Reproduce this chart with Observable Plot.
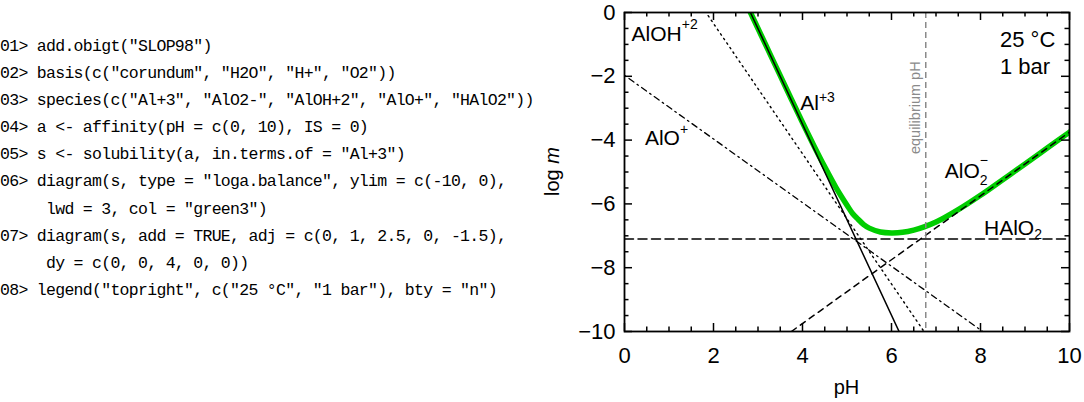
<!DOCTYPE html>
<html><head><meta charset="utf-8">
<script src="https://cdn.jsdelivr.net/npm/d3@7"></script>
<script src="https://cdn.jsdelivr.net/npm/@observablehq/plot@0.6"></script>
<style>
body{margin:0;background:#fff;}
#wrap{position:relative;width:1084px;height:402px;overflow:hidden;}
#chart{position:absolute;left:0;top:0;}
#code{position:absolute;left:0;top:33px;font-family:"Liberation Mono","Courier New",monospace;font-size:16.5px;letter-spacing:-0.7px;line-height:27.1px;white-space:pre;color:#000;}
</style></head><body>
<div id="wrap"><div id="chart"></div><div id="code"></div></div>
<script>
// ---- data ----
const codeLines = [
  '01> add.obigt("SLOP98")',
  '02> basis(c("corundum", "H2O", "H+", "O2"))',
  '03> species(c("Al+3", "AlO2-", "AlOH+2", "AlO+", "HAlO2"))',
  '04> a <- affinity(pH = c(0, 10), IS = 0)',
  '05> s <- solubility(a, in.terms.of = "Al+3")',
  '06> diagram(s, type = "loga.balance", ylim = c(-10, 0),',
  '     lwd = 3, col = "green3")',
  '07> diagram(s, add = TRUE, adj = c(0, 1, 2.5, 0, -1.5),',
  '     dy = c(0, 0, 4, 0, 0))',
  '08> legend("topright", c("25 °C", "1 bar"), bty = "n")'
];
const xTickLabels = [0, 2, 4, 6, 8, 10];
const yTickLabels = [0, -2, -4, -6, -8, -10];
const xMinor = [0.5, 1, 1.5, 2.5, 3, 3.5, 4.5, 5, 5.5, 6.5, 7, 7.5, 8.5, 9, 9.5];
const yMinor = [-0.5, -1, -1.5, -2.5, -3, -3.5, -4.5, -5, -5.5, -6.5, -7, -7.5, -8.5, -9, -9.5];

// species lines (pH, log m) end points
const lineAl3   = [[2.83, 0], [6.17, -10]];
const lineAlO2  = [[3.75, -10], [10, -3.75]];
const lineAlOH2 = [[1.88, -0.1], [6.73, -10]];
const lineAlO   = [[0, -1.97], [8.05, -10]];
const lineHAlO2 = [[0, -7.1], [10, -7.1]];
// total solubility (green)
const totalPH   = [2.83, 3.0, 3.25, 3.5, 3.75, 4.0, 4.25, 4.5, 4.75, 5.0, 5.125, 5.25, 5.375, 5.5, 5.75, 6.0, 6.25, 6.5, 6.75, 7.0, 7.5, 8.0, 8.5, 9.0, 9.5, 10];
const totalLogm = [0, -0.50, -1.24, -1.98, -2.72, -3.45, -4.16, -4.84, -5.48, -6.04, -6.30, -6.48, -6.65, -6.76, -6.88, -6.91, -6.89, -6.82, -6.71, -6.57, -6.18, -5.73, -5.24, -4.75, -4.25, -3.75];
const eqPH = 6.77;

const labels = [
  {pH: 0.17, logm: -0.90, main: "AlOH", sup: "+2", supDy: -11.4},
  {pH: 0.47, logm: -4.17, main: "AlO", sup: "+", supDy: -11.3},
  {pH: 3.96, logm: -3.07, main: "Al", sup: "+3", supDy: -8.3},
  {pH: 7.21, logm: -5.20, main: "AlO", sub: "2", subDy: 7.5, sup: "\u2212", supDy: -20},
  {pH: 8.09, logm: -6.98, main: "HAlO", sub: "2", subDy: 4.5}
];
const legendLines = ["25 \u00b0C", "1 bar"];

// ---- chart ----
const W = 1084, H = 402, mL = 624, mR = 15, mT = 12, mB = 71;
const iW = W - mL - mR, iH = H - mT - mB;
const major = 8, minor = 4.5;
const font = '"Liberation Sans", Arial, Helvetica, sans-serif';
const xy = {x: d => d[0], y: d => d[1], clip: true};

const chart = Plot.plot({
  width: W, height: H,
  marginLeft: mL, marginRight: mR, marginTop: mT, marginBottom: mB,
  x: {domain: [0, 10]},
  y: {domain: [-10, 0]},
  style: {fontFamily: font, background: "transparent", overflow: "visible", color: "black"},
  marks: [
    Plot.line(totalPH.map((p, i) => [p, totalLogm[i]]), {...xy, stroke: "#00cd00", strokeWidth: 5.5, curve: "catmull-rom"}),
    Plot.line(lineHAlO2, {...xy, stroke: "black", strokeWidth: 1.5, strokeDasharray: "9,4.5"}),
    Plot.line(lineAlO, {...xy, stroke: "black", strokeWidth: 1.3, strokeDasharray: "1.5,4,6,4"}),
    Plot.line(lineAlOH2, {...xy, stroke: "black", strokeWidth: 1.4, strokeDasharray: "1.5,4"}),
    Plot.line(lineAlO2, {...xy, stroke: "black", strokeWidth: 1.5, strokeDasharray: "6,5"}),
    Plot.line(lineAl3, {...xy, stroke: "black", strokeWidth: 1.5}),
    Plot.ruleX([eqPH], {stroke: "#8a8a8a", strokeWidth: 1.5, strokeDasharray: "6,4"}),
    Plot.frame({stroke: "black", strokeWidth: 1.8}),
    // bottom & top ticks
    Plot.tickX(xTickLabels, {x: d => d, insetTop: iH - major, stroke: "black", strokeWidth: 1.5}),
    Plot.tickX(xMinor, {x: d => d, insetTop: iH - minor, stroke: "black", strokeWidth: 1.5}),
    Plot.tickX(xTickLabels, {x: d => d, insetBottom: iH - major, stroke: "black", strokeWidth: 1.5}),
    Plot.tickX(xMinor, {x: d => d, insetBottom: iH - minor, stroke: "black", strokeWidth: 1.5}),
    // left & right ticks
    Plot.tickY(yTickLabels, {y: d => d, insetRight: iW - major, stroke: "black", strokeWidth: 1.5}),
    Plot.tickY(yMinor, {y: d => d, insetRight: iW - minor, stroke: "black", strokeWidth: 1.5}),
    Plot.tickY(yTickLabels, {y: d => d, insetLeft: iW - major, stroke: "black", strokeWidth: 1.5}),
    Plot.tickY(yMinor, {y: d => d, insetLeft: iW - minor, stroke: "black", strokeWidth: 1.5}),
    Plot.axisX(xTickLabels, {tickSize: 0, tickPadding: 16, fontSize: 22, label: null, fill: "black"}),
    Plot.axisY(yTickLabels, {tickSize: 0, tickPadding: 9, fontSize: 22, label: null, fill: "black"})
  ]
});
document.getElementById("chart").appendChild(chart);

// scales from the library
const sx = chart.scale("x"), sy = chart.scale("y");
const fx = sx.apply ? (v => sx.apply(v)) : d3.scaleLinear(sx.domain, sx.range);
const fy = sy.apply ? (v => sy.apply(v)) : d3.scaleLinear(sy.domain, sy.range);

const svg = d3.select(chart);
const g = svg.append("g").attr("font-family", font).attr("fill", "black").attr("text-anchor", "start");

// species labels
for (const L of labels) {
  const t = g.append("text").attr("x", fx(L.pH)).attr("y", fy(L.logm)).attr("font-size", 21);
  t.append("tspan").text(L.main);
  if (L.sub) {
    t.append("tspan").attr("font-size", 14).attr("dy", L.subDy).text(L.sub);
    if (L.sup) t.append("tspan").attr("font-size", 14).attr("dx", -7.8).attr("dy", L.supDy).text(L.sup);
  } else if (L.sup) {
    t.append("tspan").attr("font-size", 14).attr("dy", L.supDy).text(L.sup);
  }
}

// legend (top right, like R "topright")
const xr = fx(10), yt = fy(0);
legendLines.forEach((s, i) => {
  g.append("text").attr("x", xr - 69).attr("y", yt + 35 + i * 27.3).attr("font-size", 22).text(s);
});

// equilibrium pH label
g.append("text")
  .attr("transform", `translate(${fx(eqPH) - 5},${fy(-3.0)}) rotate(-90)`)
  .attr("text-anchor", "middle").attr("font-size", 14.5).attr("fill", "#8a8a8a")
  .text("equilibrium pH");

// axis titles
const xc = (fx(0) + fx(10)) / 2, yc = (fy(0) + fy(-10)) / 2;
g.append("text").attr("x", xc).attr("y", fy(-10) + 63).attr("text-anchor", "middle").attr("font-size", 20).text("pH");
const yl = g.append("text").attr("transform", `translate(${fx(0) - 65},${yc}) rotate(-90)`)
  .attr("text-anchor", "middle").attr("font-size", 20);
yl.append("tspan").text("log ");
yl.append("tspan").attr("font-style", "italic").text("m");

// code listing
document.getElementById("code").textContent = codeLines.join("\n");
</script>
</body></html>
